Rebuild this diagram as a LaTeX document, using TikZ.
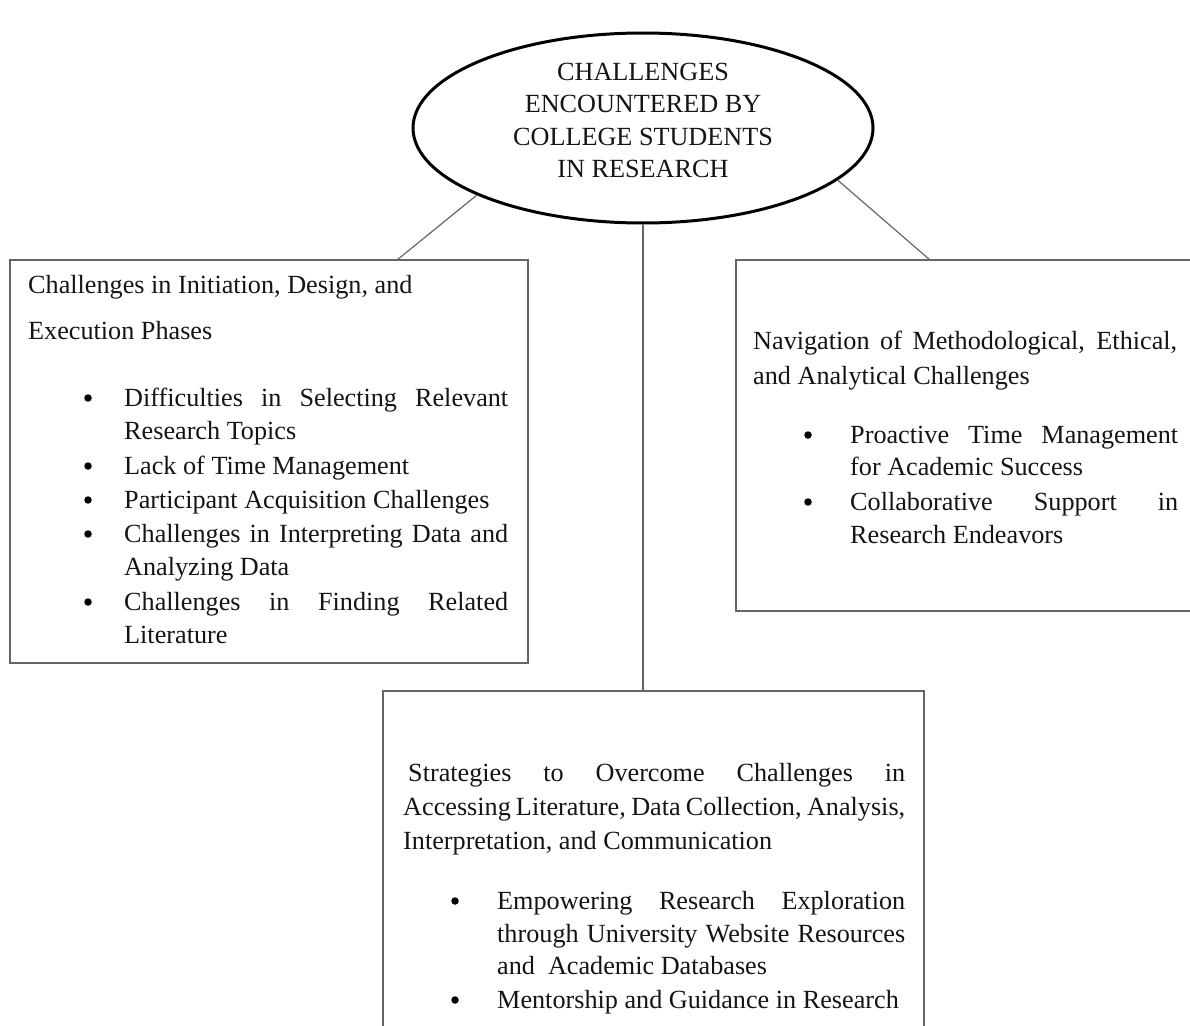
\documentclass[tikz,border=0pt]{standalone}
\usepackage{fontspec}
\setmainfont{Liberation Serif}
\usetikzlibrary{shapes.geometric}
\begin{document}
\begin{tikzpicture}[x=1pt,y=-1pt,
  txt/.style={anchor=base west, inner sep=0pt, font=\fontsize{26.2}{33}\selectfont, text=black!92},
  ctxt/.style={anchor=base, inner sep=0pt, font=\fontsize{26.2}{33}\selectfont, text=black!92},
  bul/.style={circle, fill=black, inner sep=0pt, minimum size=7.5pt},
  box/.style={draw=black!60, line width=1.4pt, anchor=north west, inner sep=0pt, outer sep=0pt},
  conn/.style={draw=black!60, line width=1.2pt},
  root/.style={ellipse, draw=black, line width=3pt, inner sep=0pt, minimum width=460pt, minimum height=190pt}]
\useasboundingbox (0,0) rectangle (1190,1025);
\clip (0,0) rectangle (1190,1025);

% root ellipse
\node[root] (root) at (643,128) {};
\node[ctxt] (t1) at (643,80.5) {CHALLENGES};
\node[ctxt] (t2) at (643,112.5) {ENCOUNTERED BY};
\node[ctxt] (t3) at (643,145) {COLLEGE STUDENTS};
\node[ctxt] (t4) at (643,177.5) {IN RESEARCH};

% boxes
\node[box, minimum width=518pt, minimum height=403pt] (leftbox) at (10,260) {};
\node[box, minimum width=470pt, minimum height=351pt] (rightbox) at (736,260) {};
\node[box, minimum width=541pt, minimum height=360pt] (botbox) at (383,691) {};

% connector ends
\coordinate (lefttop) at (397,260);
\coordinate (righttop) at (930,260);
\coordinate (bottop) at (643,691);
\draw[conn] (root.202) -- (lefttop);
\draw[conn] (root.345) -- (righttop);
\draw[conn] (root.south) -- (bottop);

% left box text
\node[txt] (l1) at (28,293) {Challenges in Initiation, Design, and};
\node[txt] (l2) at (28,339) {Execution Phases};
\node[bul] (lb1) at (88,398) {};
\node[txt] (l3) at (124,406) {\makebox[384pt][s]{Difficulties in Selecting Relevant}};
\node[txt] (l4) at (124,439) {Research Topics};
\node[bul] (lb2) at (88,466) {};
\node[txt] (l5) at (124,474) {Lack of Time Management};
\node[bul] (lb3) at (88,500) {};
\node[txt] (l6) at (124,508) {Participant Acquisition Challenges};
\node[bul] (lb4) at (88,534) {};
\node[txt] (l7) at (124,542) {\makebox[384pt][s]{Challenges in Interpreting Data and}};
\node[txt] (l8) at (124,575) {Analyzing Data};
\node[bul] (lb5) at (88,602) {};
\node[txt] (l9) at (124,610) {\makebox[384pt][s]{Challenges in Finding Related}};
\node[txt] (l10) at (124,643) {Literature};

% right box text
\node[txt] (r1) at (753,349) {\makebox[424pt][s]{Navigation of Methodological, Ethical,}};
\node[txt] (r2) at (753,384) {and Analytical Challenges};
\node[bul] (rb1) at (808,435) {};
\node[txt] (r3) at (850,443) {\makebox[328pt][s]{Proactive Time Management}};
\node[txt] (r4) at (850,475) {for Academic Success};
\node[bul] (rb2) at (808,502) {};
\node[txt] (r5) at (850,510) {\makebox[328pt][s]{Collaborative Support in}};
\node[txt] (r6) at (850,543) {Research Endeavors};

% bottom box text
\node[txt] (b1) at (408,781) {\makebox[497pt][s]{Strategies to Overcome Challenges in}};
\node[txt] (b2) at (403,815) {\makebox[502pt][s]{Accessing Literature, Data Collection, Analysis,}};
\node[txt] (b3) at (403,849) {Interpretation, and Communication};
\node[bul] (bb1) at (455,901) {};
\node[txt] (b4) at (497,909) {\makebox[408pt][s]{Empowering Research Exploration}};
\node[txt] (b5) at (497,942) {\makebox[408pt][s]{through University Website Resources}};
\node[txt] (b6) at (497,974) {and\hspace{13pt}Academic Databases};
\node[bul] (bb2) at (455,1000) {};
\node[txt] (b7) at (497,1008) {Mentorship and Guidance in Research};
\end{tikzpicture}
\end{document}
